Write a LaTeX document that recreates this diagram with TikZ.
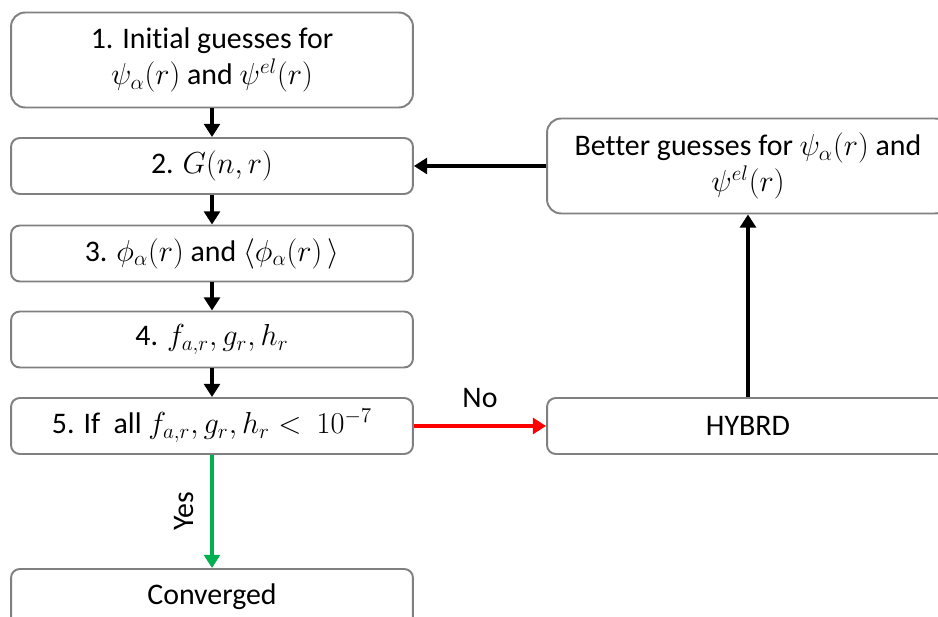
\documentclass[tikz,border=0pt]{standalone}
\usepackage{amsmath}
\usepackage{fontspec}
\setmainfont[Ligatures=CommonOff]{Carlito}
\usepackage{xcolor}
\definecolor{boxgray}{HTML}{808080}
\definecolor{yesgreen}{HTML}{00B050}
\definecolor{nored}{HTML}{FF0000}
\usepackage{tikz}
\usetikzlibrary{arrows.meta, positioning}

\tikzset{
  stepbox/.style={draw=boxgray, line width=1.1pt, rounded corners=5pt, fill=white,
    minimum width=8.04cm, minimum height=1.12cm, align=center,
    font=\fontsize{17}{20.5}\selectfont},
  bigbox/.style={stepbox, minimum height=1.9cm, rounded corners=8pt},
  flowarrow/.style={line width=2.3pt, -{Triangle[length=7.5pt,width=9pt]}},
  lbl/.style={font=\fontsize{17}{20.5}\selectfont}
}

\begin{document}
\begin{tikzpicture}[x=0.02cm, y=-0.02cm]
      \useasboundingbox (0,0) rectangle (938,617);
      \clip (0,0) rectangle (938,617);
      % left column
      \node[bigbox] (init) at (212,60) {1. Initial guesses for\\$\psi_\alpha(r)$ and $\psi^{el}(r)$};
      \foreach \name/\yc/\txt in {
        gnr/166/{2. $G(n,r)$},
        phi/253.5/{3. $\phi_\alpha(r)$ and $\langle\phi_\alpha(r)\,\rangle$},
        fgh/339.5/{4. $f_{a,r},g_r,h_r$},
        check/426/{5. If~ all $f_{a,r},g_r,h_r<~10^{-7}$}}{
        \node[stepbox] (\name) at (212,\yc) {\txt};
      }
      \node[stepbox] (conv) at (212,597) {Converged};
      % right column
      \node[bigbox] (better) at (748,166) {Better guesses for $\psi_\alpha(r)$ and\\$\psi^{el}(r)$};
      \node[stepbox] (hybrd) at (748,426) {HYBRD};
      % connectors
      \draw[flowarrow] (init) -- (gnr);
      \draw[flowarrow] (gnr) -- (phi);
      \draw[flowarrow] (phi) -- (fgh);
      \draw[flowarrow] (fgh) -- (check);
      \draw[flowarrow, nored] (check) -- (hybrd)
        node[lbl, midway, above=6pt, text=black] (no) {No};
      \draw[flowarrow, yesgreen] (check) -- (conv)
        node[lbl, midway, rotate=90, anchor=south, inner sep=9pt, text=black] (yes) {Yes};
      \draw[flowarrow] (hybrd) -- (better);
      \draw[flowarrow] (better) -- (gnr);
\end{tikzpicture}
\end{document}
